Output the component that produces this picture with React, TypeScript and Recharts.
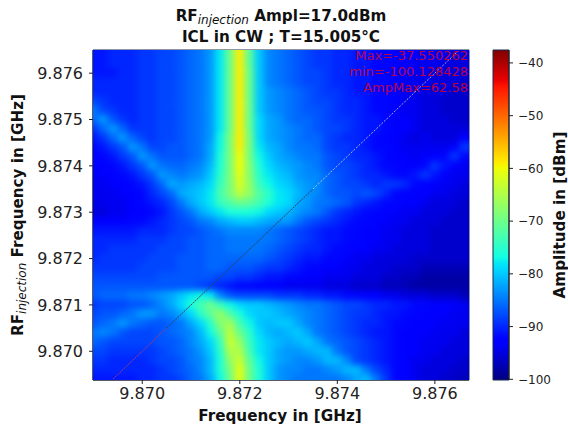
import React from "react";
import {
  ScatterChart,
  Scatter,
  XAxis,
  YAxis,
  ReferenceArea,
} from "recharts";

// Frequency of each map cell, in GHz
const cellFreqX = [
  9.869, 9.8692, 9.8694, 9.8696, 9.8698, 9.87, 9.8702, 9.8704, 9.8706, 9.8708,
  9.871, 9.8712, 9.8714, 9.8716, 9.8718, 9.872, 9.8722, 9.8724, 9.8726, 9.8728,
  9.873, 9.8732, 9.8734, 9.8736, 9.8738, 9.874, 9.8742, 9.8744, 9.8746, 9.8748,
  9.875, 9.8752, 9.8754, 9.8756, 9.8758, 9.876, 9.8762, 9.8764, 9.8766,
];
const cellFreqY = [
  9.8764, 9.8762, 9.876, 9.8758, 9.8756, 9.8754, 9.8752, 9.875, 9.8748, 9.8746,
  9.8744, 9.8742, 9.874, 9.8738, 9.8736, 9.8734, 9.8732, 9.873, 9.8728, 9.8726,
  9.8724, 9.8722, 9.872, 9.8718, 9.8716, 9.8714, 9.8712, 9.871, 9.8708, 9.8706,
  9.8704, 9.8702, 9.87, 9.8698, 9.8696, 9.8694,
];

// Amplitude in dBm, one line per row, top of the map first
const amplitudeRows = [
  [-91,-91,-90,-90,-90,-89,-89,-88,-88,-87,-86,-85,-83,-78,-70,-59,-71,-80,-84,-85,-86,-87,-88,-89,-89,-90,-90,-91,-91,-92,-92,-93,-93,-93,-94,-94,-94,-95,-95],
  [-91,-91,-90,-90,-90,-89,-89,-88,-88,-87,-86,-85,-83,-78,-70,-59,-71,-80,-84,-85,-86,-87,-88,-89,-89,-90,-90,-91,-91,-92,-92,-93,-93,-94,-94,-94,-95,-95,-95],
  [-91,-91,-91,-90,-90,-89,-89,-88,-88,-87,-86,-85,-83,-78,-70,-59,-70,-80,-84,-85,-86,-87,-88,-88,-89,-90,-90,-91,-91,-92,-92,-93,-93,-94,-94,-95,-95,-95,-95],
  [-90,-90,-90,-90,-90,-89,-89,-88,-88,-87,-86,-85,-83,-78,-70,-59,-70,-80,-84,-85,-86,-87,-88,-88,-89,-90,-90,-91,-91,-92,-92,-93,-94,-94,-94,-95,-95,-95,-96],
  [-90,-90,-90,-90,-90,-89,-89,-88,-88,-87,-86,-85,-83,-78,-70,-59,-70,-80,-83,-84,-85,-86,-87,-88,-89,-89,-90,-91,-91,-92,-92,-93,-94,-94,-95,-95,-95,-96,-96],
  [-88,-89,-90,-90,-90,-89,-89,-88,-88,-87,-86,-85,-83,-78,-70,-59,-70,-80,-83,-84,-85,-86,-87,-88,-88,-89,-90,-90,-91,-92,-92,-93,-94,-94,-95,-95,-96,-96,-96],
  [-85,-88,-89,-90,-90,-89,-89,-88,-88,-87,-86,-85,-83,-78,-70,-59,-70,-80,-83,-84,-85,-86,-87,-87,-88,-89,-90,-90,-91,-92,-92,-93,-94,-94,-95,-95,-96,-96,-96],
  [-86,-83,-87,-89,-90,-89,-89,-88,-88,-87,-86,-85,-83,-78,-70,-59,-70,-79,-82,-83,-85,-86,-86,-87,-88,-89,-89,-90,-91,-91,-92,-93,-93,-94,-95,-95,-95,-96,-96],
  [-89,-86,-83,-86,-89,-89,-89,-88,-88,-87,-86,-85,-83,-78,-70,-59,-70,-79,-82,-83,-84,-85,-86,-87,-88,-88,-89,-90,-91,-91,-92,-93,-93,-94,-95,-95,-95,-95,-95],
  [-91,-89,-86,-83,-86,-88,-89,-88,-88,-87,-86,-85,-83,-77,-69,-59,-69,-79,-82,-83,-84,-85,-86,-86,-88,-89,-90,-90,-91,-92,-93,-93,-94,-95,-94,-95,-95,-95,-93],
  [-92,-91,-89,-87,-83,-85,-88,-88,-87,-87,-86,-85,-82,-77,-69,-59,-69,-78,-81,-82,-84,-85,-85,-86,-88,-89,-89,-90,-91,-92,-92,-93,-94,-94,-94,-94,-94,-93,-89],
  [-93,-92,-91,-89,-87,-83,-85,-87,-87,-87,-86,-85,-82,-76,-69,-60,-69,-77,-80,-82,-83,-84,-85,-85,-87,-88,-89,-90,-90,-91,-92,-93,-93,-94,-93,-93,-92,-89,-92],
  [-93,-93,-92,-91,-89,-87,-83,-85,-86,-86,-85,-84,-81,-76,-69,-60,-68,-76,-79,-81,-82,-83,-84,-85,-87,-88,-88,-89,-90,-91,-92,-92,-93,-93,-92,-89,-91,-93,-94],
  [-94,-93,-93,-92,-91,-89,-87,-83,-84,-85,-84,-83,-80,-75,-69,-61,-68,-75,-78,-80,-81,-83,-84,-84,-86,-87,-88,-89,-90,-90,-91,-92,-92,-91,-89,-91,-93,-94,-94],
  [-94,-94,-93,-93,-92,-91,-89,-86,-82,-83,-82,-81,-79,-74,-69,-62,-67,-74,-77,-79,-80,-82,-83,-84,-86,-87,-88,-88,-89,-90,-89,-89,-90,-92,-93,-93,-94,-94,-95],
  [-94,-94,-94,-93,-93,-92,-90,-88,-86,-82,-81,-80,-78,-73,-69,-64,-67,-72,-75,-78,-79,-81,-83,-84,-86,-87,-87,-88,-87,-88,-90,-92,-93,-93,-93,-94,-94,-95,-95],
  [-95,-94,-94,-94,-93,-92,-91,-90,-88,-85,-82,-80,-78,-74,-72,-70,-71,-73,-76,-78,-79,-82,-83,-85,-85,-86,-87,-89,-90,-91,-92,-92,-93,-93,-94,-95,-95,-95,-96],
  [-95,-95,-94,-94,-93,-93,-92,-91,-89,-87,-85,-82,-80,-78,-76,-76,-76,-77,-79,-80,-81,-83,-84,-85,-87,-89,-90,-91,-92,-92,-93,-93,-94,-94,-95,-95,-95,-96,-96],
  [-93,-93,-93,-93,-92,-92,-91,-90,-89,-88,-87,-85,-84,-82,-81,-80,-80,-81,-82,-83,-83,-85,-87,-88,-89,-90,-91,-92,-92,-93,-93,-94,-94,-95,-95,-95,-96,-96,-96],
  [-91,-91,-91,-91,-91,-90,-90,-90,-89,-88,-88,-87,-86,-85,-84,-84,-84,-84,-85,-86,-87,-88,-89,-90,-91,-91,-92,-92,-93,-93,-94,-94,-95,-95,-95,-96,-96,-96,-96],
  [-90,-90,-90,-90,-90,-89,-89,-89,-88,-88,-87,-87,-86,-86,-85,-85,-85,-85,-85,-86,-87,-88,-89,-90,-91,-91,-92,-92,-93,-93,-94,-94,-95,-95,-95,-96,-96,-96,-96],
  [-90,-90,-89,-89,-89,-89,-89,-88,-88,-88,-87,-87,-86,-86,-85,-85,-85,-85,-86,-87,-88,-89,-90,-90,-91,-92,-92,-93,-93,-94,-94,-95,-95,-95,-95,-96,-96,-96,-96],
  [-90,-89,-89,-89,-89,-89,-88,-88,-88,-87,-87,-87,-86,-86,-86,-86,-86,-86,-87,-88,-89,-90,-91,-91,-92,-92,-93,-94,-94,-95,-95,-95,-95,-96,-96,-96,-96,-96,-96],
  [-89,-89,-89,-89,-89,-88,-88,-88,-88,-87,-87,-87,-86,-86,-87,-87,-87,-88,-89,-89,-90,-91,-92,-92,-93,-93,-94,-94,-95,-95,-95,-96,-96,-96,-97,-97,-97,-97,-97],
  [-88,-88,-88,-88,-88,-88,-88,-87,-87,-87,-87,-87,-87,-88,-88,-89,-89,-90,-91,-91,-92,-92,-93,-93,-94,-94,-94,-95,-95,-95,-96,-96,-97,-97,-98,-98,-98,-98,-98],
  [-87,-87,-87,-87,-87,-87,-87,-87,-87,-87,-87,-88,-89,-90,-91,-92,-92,-93,-93,-93,-94,-94,-94,-94,-95,-95,-95,-96,-96,-96,-97,-97,-97,-98,-98,-98,-98,-98,-98],
  [-87,-86,-86,-86,-85,-85,-84,-83,-82,-80,-78,-77,-78,-84,-87,-88,-88,-88,-88,-89,-89,-89,-90,-90,-91,-91,-92,-92,-93,-93,-94,-94,-95,-95,-95,-96,-96,-96,-97],
  [-89,-88,-88,-88,-87,-87,-86,-84,-82,-79,-76,-73,-70,-74,-77,-79,-80,-80,-81,-82,-83,-84,-85,-85,-86,-87,-88,-88,-89,-90,-90,-91,-91,-92,-92,-93,-93,-93,-94],
  [-88,-87,-87,-86,-85,-83,-83,-85,-84,-82,-79,-75,-71,-67,-72,-76,-79,-80,-80,-81,-82,-83,-84,-85,-86,-87,-88,-89,-89,-90,-91,-91,-92,-92,-93,-93,-93,-94,-94],
  [-87,-86,-85,-83,-85,-86,-87,-87,-86,-85,-82,-79,-75,-68,-66,-73,-77,-80,-81,-80,-80,-82,-84,-85,-86,-87,-88,-89,-90,-90,-91,-92,-92,-93,-93,-93,-94,-94,-94],
  [-85,-84,-85,-87,-88,-88,-88,-87,-86,-85,-84,-81,-77,-71,-64,-70,-75,-79,-81,-82,-81,-80,-82,-85,-86,-87,-88,-89,-90,-91,-91,-92,-93,-93,-93,-94,-94,-94,-95],
  [-86,-87,-88,-88,-88,-88,-88,-87,-87,-86,-84,-82,-79,-74,-63,-67,-74,-78,-80,-81,-82,-81,-80,-82,-85,-86,-87,-88,-89,-90,-91,-92,-93,-93,-94,-94,-94,-95,-95],
  [-88,-88,-89,-89,-89,-89,-89,-88,-87,-86,-85,-83,-80,-75,-65,-65,-73,-78,-80,-82,-83,-83,-82,-81,-81,-85,-87,-88,-89,-90,-91,-92,-93,-93,-94,-94,-95,-95,-95],
  [-89,-89,-90,-90,-90,-90,-89,-88,-88,-87,-85,-84,-81,-76,-67,-63,-71,-77,-80,-82,-83,-84,-84,-83,-81,-81,-84,-88,-89,-90,-91,-92,-93,-94,-94,-95,-95,-95,-96],
  [-90,-90,-90,-90,-90,-90,-90,-89,-88,-87,-86,-84,-81,-76,-69,-61,-70,-76,-80,-83,-84,-84,-85,-85,-84,-83,-81,-81,-85,-88,-90,-92,-93,-94,-95,-95,-95,-96,-96],
  [-91,-91,-91,-91,-91,-90,-90,-89,-89,-88,-86,-85,-82,-77,-70,-61,-70,-76,-80,-83,-84,-85,-85,-85,-85,-85,-84,-82,-81,-85,-89,-92,-93,-94,-95,-95,-96,-96,-97],
];

// Pump line where both frequencies are equal
const diagonalLow = [9.8694, 9.8705];
const diagonalMid = [9.8705, 9.8735];
const diagonalHigh = [9.8735, 9.87647];

const xTicks = [9.87, 9.872, 9.874, 9.876];
const yTicks = [9.87, 9.871, 9.872, 9.873, 9.874, 9.875, 9.876];
const colorTicks = [-100, -90, -80, -70, -60, -50, -40];
const statLines = ["Max=-37.550262", "min=-100.128428", "AmpMax=62.58"];

const AMP_MIN = -100.128;
const AMP_MAX = -37.55;
const X_DOMAIN = [9.86899, 9.8767];
const Y_DOMAIN = [9.86938, 9.8765];
const PLOT = { left: 93, top: 50, right: 469, bottom: 380 };
const FONT = "'DejaVu Sans', sans-serif";

// matplotlib jet
const interp = (pts: number[][], t: number) => {
  for (let i = 1; i < pts.length; i++) {
    if (t <= pts[i][0]) {
      const [a, b] = [pts[i - 1], pts[i]];
      return a[1] + ((b[1] - a[1]) * (t - a[0])) / (b[0] - a[0]);
    }
  }
  return pts[pts.length - 1][1];
};
const jetT = (t: number) => {
  const r = interp([[0, 0], [0.35, 0], [0.66, 1], [0.89, 1], [1, 0.5]], t);
  const g = interp([[0, 0], [0.125, 0], [0.375, 1], [0.64, 1], [0.91, 0], [1, 0]], t);
  const b = interp([[0, 0.5], [0.11, 1], [0.34, 1], [0.65, 0], [1, 0]], t);
  return `rgb(${Math.round(r * 255)},${Math.round(g * 255)},${Math.round(b * 255)})`;
};
const jet = (v: number) =>
  jetT(Math.min(1, Math.max(0, (v - AMP_MIN) / (AMP_MAX - AMP_MIN))));

const gradientStops = [0, 0.11, 0.125, 0.34, 0.35, 0.375, 0.64, 0.65, 0.66, 0.89, 0.91, 1];

const cells = amplitudeRows.flatMap((row, r) =>
  row.map((amp, c) => ({ x: cellFreqX[c], y: cellFreqY[r], amp }))
);

const cellW =
  ((PLOT.right - PLOT.left) * 0.0002) / (X_DOMAIN[1] - X_DOMAIN[0]);
const cellH =
  ((PLOT.bottom - PLOT.top) * 0.0002) / (Y_DOMAIN[1] - Y_DOMAIN[0]);

const HeatCell = (props: any) => (
  <rect
    x={props.cx - cellW / 2 - 0.3}
    y={props.cy - cellH / 2 - 0.3}
    width={cellW + 0.6}
    height={cellH + 0.6}
    fill={jet(props.payload.amp)}
  />
);
const NoDot = () => null;

const diagonalPoints = (f: number[]) => f.map((v) => ({ x: v, y: v }));

const tickStyle = { fontSize: 16, fill: "#222", fontFamily: FONT };

const App = () => {
  return (
    <div style={{ position: "absolute", left: 0, top: 0, width: 568, height: 425, background: "#fff", overflow: "hidden" }}>
      <style>{`.heat-layer { filter: url(#heatSoft); }`}</style>
      <svg width={0} height={0} style={{ position: "absolute" }}>
        <defs>
          <filter
            id="heatSoft"
            filterUnits="userSpaceOnUse"
            x={PLOT.left}
            y={PLOT.top}
            width={PLOT.right - PLOT.left}
            height={PLOT.bottom - PLOT.top}
            colorInterpolationFilters="sRGB"
          >
            <feGaussianBlur stdDeviation={3.2} />
            <feComponentTransfer>
              <feFuncA type="linear" slope={100} />
            </feComponentTransfer>
          </filter>
          <linearGradient id="jetBar" x1="0" y1="1" x2="0" y2="0">
            {gradientStops.map((t) => (
              <stop key={t} offset={t} stopColor={jetT(t)} />
            ))}
          </linearGradient>
        </defs>
      </svg>

      <div style={{ position: "absolute", left: 0, top: 0 }}>
        <ScatterChart
          width={568}
          height={425}
          margin={{ top: PLOT.top, right: 568 - PLOT.right, bottom: 15, left: 33 }}
        >
          <XAxis
            type="number"
            dataKey="x"
            domain={X_DOMAIN}
            ticks={xTicks}
            allowDataOverflow
            height={30}
            tickFormatter={(v: number) => v.toFixed(3)}
            tick={tickStyle}
            tickSize={4}
            tickMargin={4}
            stroke="#222"
          />
          <YAxis
            type="number"
            dataKey="y"
            domain={Y_DOMAIN}
            ticks={yTicks}
            allowDataOverflow
            width={60}
            tickFormatter={(v: number) => v.toFixed(3)}
            tick={tickStyle}
            tickSize={4}
            tickMargin={6}
            stroke="#222"
          />
          <Scatter
            className="heat-layer"
            data={cells}
            shape={HeatCell}
            isAnimationActive={false}
          />
          <Scatter
            data={diagonalPoints(diagonalLow)}
            shape={NoDot}
            line={{ stroke: "#b03a6a", strokeWidth: 1, strokeDasharray: "2 1" }}
            isAnimationActive={false}
          />
          <Scatter
            data={diagonalPoints(diagonalMid)}
            shape={NoDot}
            line={{ stroke: "#3a3f55", strokeWidth: 1, strokeDasharray: "2 1" }}
            isAnimationActive={false}
          />
          <Scatter
            data={diagonalPoints(diagonalHigh)}
            shape={NoDot}
            line={{ stroke: "#d8d8c8", strokeWidth: 1, strokeDasharray: "2 1.5", strokeOpacity: 0.8 }}
            isAnimationActive={false}
          />
          <ReferenceArea
            x1={X_DOMAIN[0]}
            x2={X_DOMAIN[1]}
            y1={Y_DOMAIN[0]}
            y2={Y_DOMAIN[1]}
            fill="none"
            stroke="#1a2a4a"
            strokeWidth={1}
          />
        </ScatterChart>
      </div>

      <div style={{ position: "absolute", left: 485, top: 0 }}>
        <ScatterChart
          width={83}
          height={425}
          margin={{ top: PLOT.top, right: 0, bottom: 45, left: 8 }}
        >
          <XAxis type="number" dataKey="x" domain={[0, 1]} hide />
          <YAxis
            type="number"
            dataKey="y"
            orientation="right"
            domain={[AMP_MIN, AMP_MAX]}
            ticks={colorTicks}
            width={59}
            tickFormatter={(v: number) => `${v}`.replace("-", "\u2212")}
            tick={{ fontSize: 12, fill: "#222", fontFamily: FONT, textAnchor: "start" }}
            tickSize={4}
            tickMargin={5}
            stroke="#222"
          />
          <Scatter data={[{ x: 0, y: AMP_MIN }]} shape={NoDot} isAnimationActive={false} />
          <ReferenceArea
            x1={0}
            x2={1}
            y1={AMP_MIN}
            y2={AMP_MAX}
            fill="url(#jetBar)"
            fillOpacity={1}
            stroke="#1a2a4a"
            strokeWidth={1}
          />
        </ScatterChart>
      </div>

      <svg
        width={568}
        height={425}
        style={{ position: "absolute", left: 0, top: 0, pointerEvents: "none" }}
        fontFamily={FONT}
        fill="#111"
      >
        <text x={281} y={21} textAnchor="middle" fontSize={15.2} fontWeight="bold">
          RF
          <tspan fontSize={12} fontWeight="normal" fontStyle="italic" dy={3}>injection</tspan>
          <tspan dy={-3}> Ampl=17.0dBm</tspan>
        </text>
        <text x={281} y={42} textAnchor="middle" fontSize={15.2} fontWeight="bold">
          ICL in CW ; T=15.005°C
        </text>
        <text x={280} y={421} textAnchor="middle" fontSize={15.2} fontWeight="bold">
          Frequency in [GHz]
        </text>
        <text
          transform="translate(23,215) rotate(-90)"
          textAnchor="middle"
          fontSize={15.2}
          fontWeight="bold"
        >
          RF
          <tspan fontSize={12} fontWeight="normal" fontStyle="italic" dy={3}>injection</tspan>
          <tspan dy={-3}> Frequency in [GHz]</tspan>
        </text>
        <text
          transform="translate(564.5,215) rotate(-90)"
          textAnchor="middle"
          fontSize={15.2}
          fontWeight="bold"
        >
          Amplitude in [dBm]
        </text>
        {statLines.map((line, i) => (
          <text
            key={line}
            x={468}
            y={60 + i * 16}
            textAnchor="end"
            fontSize={13}
            fill="#ff0000"
            fillOpacity={0.72}
          >
            {line}
          </text>
        ))}
      </svg>
    </div>
  );
};

export default App;
